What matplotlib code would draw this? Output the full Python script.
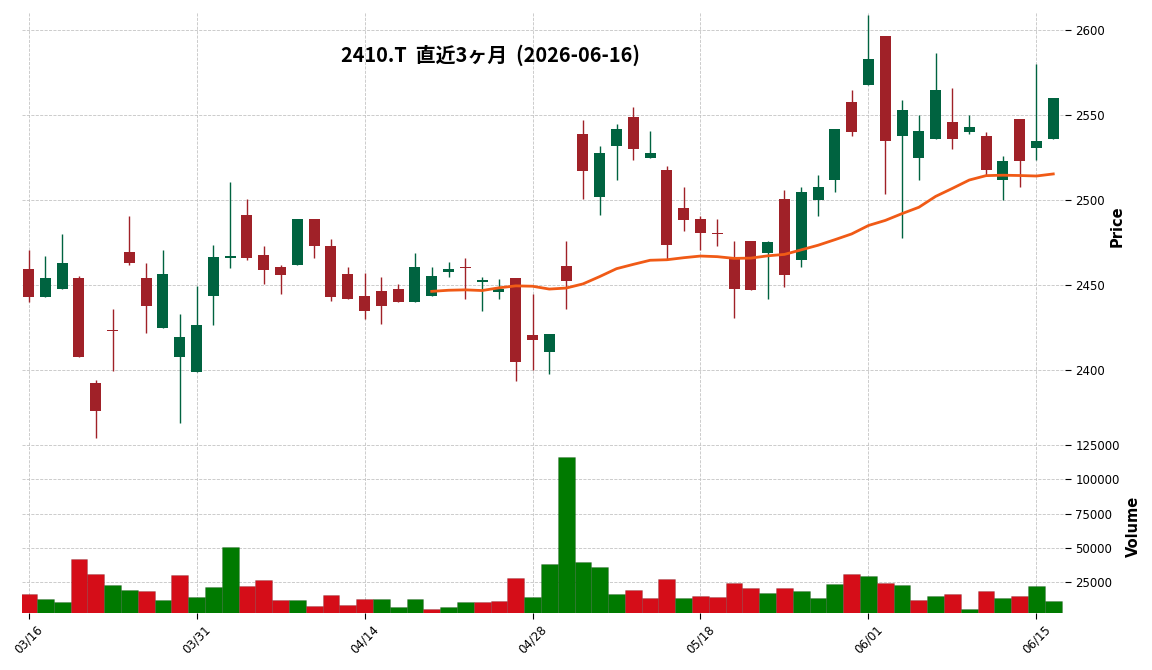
import numpy as np
import pandas as pd
import matplotlib
matplotlib.use('Agg')
import matplotlib.pyplot as plt
from matplotlib.patches import Rectangle

# daily OHLC (2410.T, 2026-03-16 .. 2026-06-16)
opens = [2459.0, 2442.7, 2447.5, 2453.9, 2392.0, 2423.2, 2469.0, 2453.9, 2424.5, 2407.5,
         2398.6, 2443.3, 2465.5, 2490.8, 2467.3, 2460.2, 2461.4, 2489.0, 2473.1, 2456.1,
         2443.1, 2446.1, 2447.3, 2439.8, 2443.3, 2457.5, 2460.2, 2451.6, 2445.7, 2453.9,
         2420.4, 2410.4, 2460.8, 2539.0, 2501.6, 2531.6, 2549.0, 2524.5, 2517.8, 2494.9,
         2489.0, 2480.2, 2466.3, 2476.0, 2468.6, 2500.2, 2464.5, 2499.8, 2511.6, 2557.8,
         2567.5, 2596.3, 2537.5, 2524.5, 2535.7, 2546.1, 2539.8, 2537.3, 2511.6, 2547.8,
         2530.6, 2535.7]
highs = [2470.2, 2467.1, 2480.0, 2455.0, 2394.1, 2435.9, 2490.6, 2462.9, 2470.2, 2433.0,
         2449.0, 2473.5, 2510.4, 2500.6, 2473.0, 2461.8, 2489.0, 2489.0, 2477.0, 2460.2,
         2457.1, 2454.7, 2450.6, 2468.8, 2460.6, 2463.5, 2465.9, 2454.7, 2453.5, 2453.9,
         2444.7, 2420.8, 2476.0, 2547.3, 2531.6, 2544.7, 2554.9, 2540.6, 2520.0, 2507.8,
         2490.2, 2488.8, 2476.0, 2476.0, 2476.0, 2505.9, 2507.6, 2514.9, 2542.0, 2564.7,
         2609.0, 2596.3, 2558.8, 2550.0, 2586.5, 2565.9, 2550.0, 2540.0, 2526.1, 2547.8,
         2580.2, 2560.2]
lows = [2439.8, 2442.7, 2447.5, 2407.5, 2360.0, 2399.0, 2461.8, 2421.8, 2424.5, 2368.8,
        2398.6, 2426.1, 2460.0, 2464.5, 2450.4, 2444.7, 2461.4, 2465.7, 2440.6, 2441.4,
        2430.0, 2427.0, 2439.8, 2439.8, 2443.3, 2454.7, 2441.8, 2434.7, 2441.8, 2393.1,
        2400.0, 2397.6, 2435.9, 2500.2, 2490.8, 2511.8, 2523.5, 2524.5, 2465.3, 2481.8,
        2470.4, 2472.7, 2430.6, 2446.7, 2441.8, 2448.6, 2460.4, 2490.6, 2504.5, 2537.6,
        2567.5, 2503.5, 2477.6, 2511.8, 2535.7, 2530.0, 2538.8, 2514.9, 2500.0, 2507.8,
        2523.5, 2535.7]
closes = [2442.7, 2453.9, 2463.1, 2407.5, 2375.7, 2422.8, 2462.7, 2437.5, 2456.1, 2419.0,
          2426.1, 2466.1, 2466.8, 2465.7, 2458.6, 2455.7, 2489.0, 2472.7, 2442.7, 2441.4,
          2434.5, 2437.5, 2439.8, 2460.2, 2455.0, 2459.0, 2459.8, 2452.9, 2447.5, 2404.5,
          2417.5, 2420.8, 2452.5, 2516.9, 2527.3, 2542.0, 2529.8, 2527.3, 2473.3, 2488.4,
          2480.4, 2479.8, 2447.5, 2446.7, 2474.9, 2455.5, 2504.9, 2507.3, 2542.0, 2539.8,
          2583.1, 2534.5, 2553.1, 2540.8, 2564.9, 2535.7, 2543.1, 2517.3, 2523.1, 2522.7,
          2534.9, 2560.2]
volumes = [16400, 12700, 10500, 41900, 31000, 22900, 19300, 18600, 12000, 30200,
           14200, 21500, 50700, 22200, 26600, 12000, 12000, 7600, 15600, 8300,
           12700, 12700, 6900, 12700, 5400, 6900, 10500, 10500, 11300, 28000,
           14200, 38300, 116400, 39700, 36100, 16400, 19300, 13400, 27300, 13400,
           14900, 14200, 24100, 20700, 17100, 20700, 18600, 13400, 23700, 31000,
           29500, 24400, 22900, 12000, 14900, 16400, 5400, 18600, 13400, 14900,
           22200, 11300]
holidays = ['2026-03-20', '2026-04-29', '2026-05-04', '2026-05-05', '2026-05-06']

dates = pd.bdate_range('2026-03-16', '2026-06-16')
dates = dates[~dates.isin(pd.to_datetime(holidays))]

df = pd.DataFrame({'Open': opens, 'High': highs, 'Low': lows,
                   'Close': closes, 'Volume': volumes}, index=dates)
df['MA'] = df['Close'].rolling(25).mean()

UP, DOWN = '#006340', '#A02128'
VUP, VDOWN = '#007a00', '#d50d18'

fig = plt.figure(figsize=(11.52, 6.70), dpi=100)
ax = fig.add_axes([0.0191, 0.3433, 0.9054, 0.6388])
axv = fig.add_axes([0.0191, 0.0858, 0.9054, 0.2560], sharex=ax)

x = np.arange(len(df))

# candles
for i, row in enumerate(df.itertuples()):
    col = UP if row.Close >= row.Open else DOWN
    ax.vlines(i, row.Low, row.High, color=col, lw=1.0, zorder=2)
    lo = min(row.Open, row.Close)
    h = max(abs(row.Close - row.Open), 0.8)
    ax.add_patch(Rectangle((i - 0.325, lo), 0.65, h, facecolor=col,
                           edgecolor='none', zorder=3))

ax.plot(x, df['MA'], color='#f05a16', lw=2.0, zorder=4)

# volume, coloured by close vs previous close
prev = df['Close'].shift(1).fillna(df['Open'])
vcols = [VUP if c >= p else VDOWN for c, p in zip(df['Close'], prev)]
axv.bar(x, df['Volume'], width=1.0, color=vcols, edgecolor='#00000033', lw=0.5, zorder=2)

ax.set_xlim(-0.39, 61.7)
ax.set_ylim(2358.6, 2610.6)
axv.set_ylim(2700, 128000)

tick_pos = x[::10]
ax.set_xticks(tick_pos)
axv.set_xticklabels([d.strftime('%m/%d') for d in dates[::10]], rotation=45,
                    ha='center', fontsize=8.5)
plt.setp(ax.get_xticklabels(), visible=False)
ax.tick_params(axis='x', length=0)

ax.set_yticks([2400, 2450, 2500, 2550, 2600])
axv.set_yticks([25000, 50000, 75000, 100000, 125000])

for a in (ax, axv):
    a.yaxis.tick_right()
    a.yaxis.set_label_position('right')
    a.tick_params(axis='y', labelsize=8.5, length=4, width=0.8)
    a.grid(True, ls='--', color='#c4c4c4', lw=0.6, zorder=0)
    a.set_axisbelow(True)
    for s in a.spines.values():
        s.set_visible(False)
axv.tick_params(axis='x', length=4, width=0.8)

ax.set_ylabel('Price', fontsize=10.5, fontweight='bold', labelpad=3)
axv.set_ylabel('Volume', fontsize=10.5, fontweight='bold', labelpad=4)

fig.text(0.4262, 1 - 55.5 / 670, '2410.T  直近3ヶ月  (2026-06-16)',
         family=['Noto Sans CJK JP', 'DejaVu Sans'], fontsize=14.3, fontweight='bold',
         ha='center', va='center')

fig.savefig('out.png', dpi=100)
